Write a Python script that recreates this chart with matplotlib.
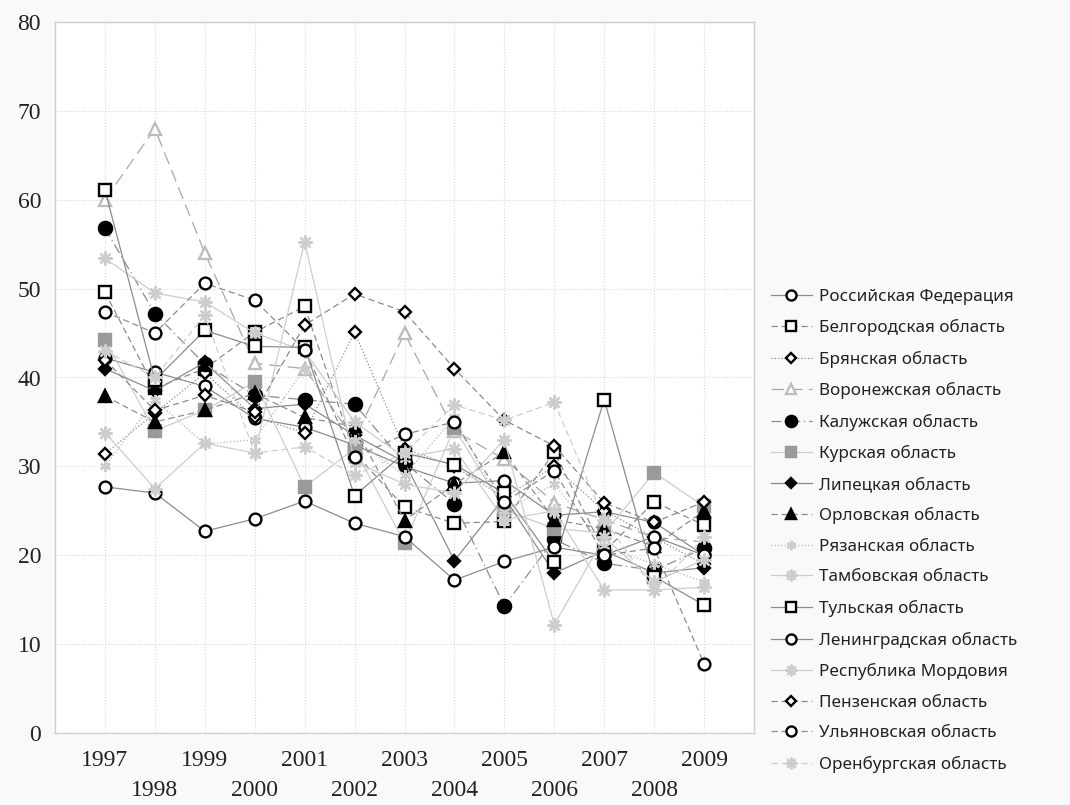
import numpy as np
import matplotlib.pyplot as plt

# ---------------- data ---------------- #
years = list(range(1997, 2010))

russia    = [42.2, 40.6, 39.0, 35.4, 34.4, 32.4, 30.0, 28.1, 28.4, 24.5, 24.9, 23.7, 20.0]
belgorod  = [49.6, 38.8, 41.0, 45.1, 48.0, 31.5, 25.4, 23.6, 23.8, 31.6, 20.4, 26.0, 23.4]
bryansk   = [31.4, 36.0, 40.5, 35.5, 33.8, 45.1, 32.0, 30.0, 26.5, 30.0, 25.0, 22.0, 19.0]
voronezh  = [60.0, 68.0, 54.0, 41.6, 41.0, 33.0, 45.0, 34.0, 30.8, 25.9, 24.0, 22.0, 21.5]
kaluga    = [56.8, 47.2, 41.5, 38.0, 37.5, 37.0, 30.4, 25.8, 14.3, 21.8, 19.1, 18.3, 20.8]
kursk     = [44.2, 34.0, 36.3, 39.5, 27.7, 32.0, 21.4, 34.3, 25.1, 23.0, 22.5, 29.3, 25.5]
lipetsk   = [41.0, 38.5, 41.7, 36.5, 37.0, 33.5, 30.5, 19.4, 26.5, 18.0, 20.5, 18.0, 18.6]
orel      = [37.9, 35.0, 36.3, 38.2, 35.5, 34.5, 23.9, 28.0, 31.6, 24.0, 23.0, 21.0, 25.0]
ryazan    = [30.0, 37.5, 32.5, 33.0, 41.0, 33.0, 29.0, 35.5, 25.0, 28.0, 21.0, 19.0, 17.0]
tambov    = [53.4, 49.5, 48.5, 45.0, 43.0, 35.0, 31.0, 32.0, 24.0, 25.0, 16.1, 16.1, 16.4]
tula      = [61.1, 39.7, 45.3, 43.5, 43.4, 26.7, 31.5, 30.2, 27.0, 19.2, 37.5, 17.6, 14.4]
leningrad = [27.7, 27.0, 22.7, 24.1, 26.1, 23.6, 22.1, 17.2, 19.3, 20.9, 20.0, 22.1, 20.0]
mordovia  = [33.8, 27.5, 32.6, 31.5, 55.3, 30.5, 28.0, 27.0, 33.0, 12.2, 22.0, 17.0, 19.5]
penza     = [42.0, 36.3, 38.0, 36.1, 45.9, 49.4, 47.4, 41.0, 35.2, 32.3, 25.9, 23.7, 26.0]
ulyanovsk = [47.4, 45.0, 50.6, 48.7, 43.1, 31.0, 33.6, 35.0, 26.0, 29.5, 20.0, 20.8, 7.8]
orenburg  = [43.0, 40.0, 47.0, 31.5, 32.2, 29.0, 31.5, 36.9, 35.2, 37.2, 24.0, 16.1, 22.0]

names = ["Российская Федерация", "Белгородская область", "Брянская область",
         "Воронежская область", "Калужская область", "Курская область",
         "Липецкая область", "Орловская область", "Рязанская область",
         "Тамбовская область", "Тульская область", "Ленинградская область",
         "Республика Мордовия", "Пензенская область", "Ульяновская область",
         "Оренбургская область"]

series = [russia, belgorod, bryansk, voronezh, kaluga, kursk, lipetsk, orel,
          ryazan, tambov, tula, leningrad, mordovia, penza, ulyanovsk, orenburg]

# ---------------- styles ---------------- #
LINE = "#8c8c8c"
LIGHT = "#cdcdcd"
STAR = (8, 2, 0)

# (marker, markersize, facecolor, edgecolor, linestyle, linecolor)
styles = [
    ("o", 8.5, "white", "black", "-", LINE),
    ("s", 8.5, "white", "black", (0, (5, 3)), LINE),
    ("D", 6.5, "white", "black", ":", LINE),
    ("^", 8.5, "white", "#bdbdbd", (0, (10, 5)), "#a8a8a8"),
    ("o", 9.5, "black", "black", (0, (8, 3, 1, 3)), LINE),
    ("s", 8.5, "#9a9a9a", "#9a9a9a", "-", LIGHT),
    ("D", 6.5, "black", "black", "-", LINE),
    ("^", 8.5, "black", "black", (0, (5, 3)), LINE),
    ((6, 2, 0), 8, LIGHT, LIGHT, ":", "#b8b8b8"),
    (STAR, 10, LIGHT, LIGHT, "-", LIGHT),
    ("s", 8.5, "white", "black", "-", LINE),
    ("o", 8.5, "white", "black", "-", LINE),
    (STAR, 10, LIGHT, LIGHT, "-", LIGHT),
    ("D", 6.5, "white", "black", (0, (5, 3)), LINE),
    ("o", 8.5, "white", "black", (0, (5, 3)), LINE),
    (STAR, 10, LIGHT, LIGHT, (0, (5, 3)), LIGHT),
]

fig = plt.figure(figsize=(10.7, 8.05), dpi=100, facecolor="#f9f9f9")
ax = fig.add_axes([55 / 1070, 72 / 805, 699 / 1070, 711 / 805])
ax.set_facecolor("white")

for vals, name, (mk, ms, fc, ec, ls, lc) in zip(series, names, styles):
    ax.plot(years, vals, linestyle=ls, color=lc, linewidth=0.9,
            marker=mk, markersize=ms, markerfacecolor=fc,
            markeredgecolor=ec, markeredgewidth=1.7, label=name)

ax.set_xlim(1996, 2010)
ax.set_ylim(0, 80)
ax.set_yticks(range(0, 81, 10))
ax.set_xticks(years)
ax.set_xticks([1996, 2010], minor=True)
ax.grid(True, which="both", color="#d8d8d8", linestyle=":", linewidth=0.8)
ax.set_axisbelow(True)

for sp in ax.spines.values():
    sp.set_color("#cfcfcf")
    sp.set_linewidth(1.0)

ax.tick_params(axis="both", which="both", length=0, colors="#222222",
               labelsize=17)
ax.tick_params(axis="y", pad=10)
for lab in ax.get_xticklabels() + ax.get_yticklabels():
    lab.set_family("Liberation Serif")

# staggered year labels: odd years on top row, even years below
for t, yr in zip(ax.xaxis.get_major_ticks(), years):
    t.set_pad(12 if yr % 2 == 1 else 34)

leg = fig.legend(loc="upper left", bbox_to_anchor=(762 / 1070, 1 - 280 / 805),
                 frameon=False, handlelength=2.4,
                 handletextpad=0.45, labelspacing=0.85, borderpad=0,
                 markerscale=0.85, prop={"family": "Noto Sans", "size": 12.3})
for txt in leg.get_texts():
    txt.set_color("#222222")

fig.savefig("out.png", dpi=100, facecolor=fig.get_facecolor())
